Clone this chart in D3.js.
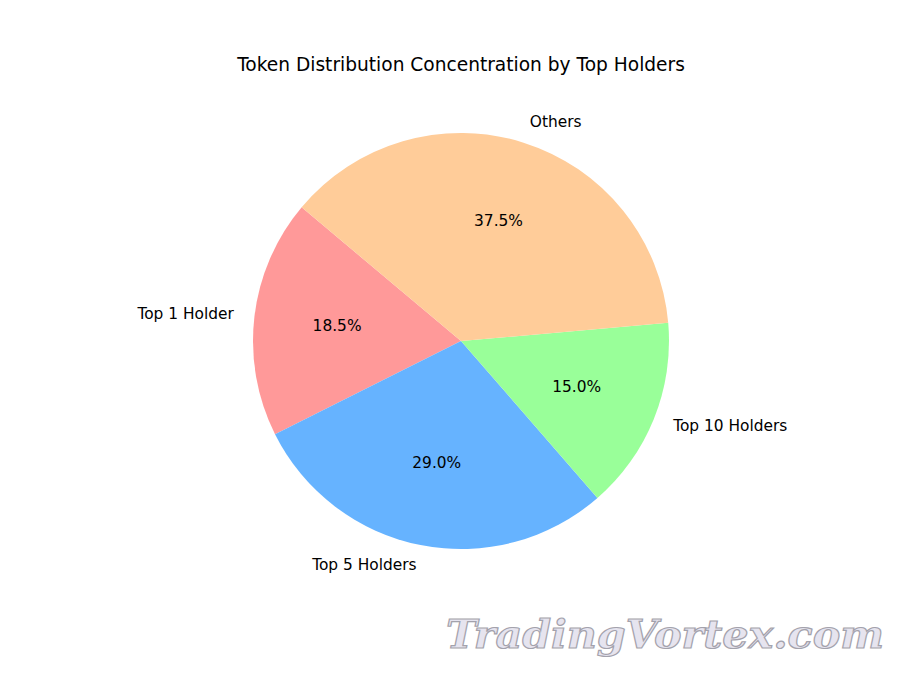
<!DOCTYPE html>
<html><head><meta charset="utf-8">
<script src="https://cdn.jsdelivr.net/npm/d3@7"></script>
<style>body{margin:0;background:#fff}svg{display:block}text{font-family:"DejaVu Sans",sans-serif}</style>
</head><body>
<script>
const categories = ["Top 1 Holder", "Top 5 Holders", "Top 10 Holders", "Others"];
const values = [18.5, 29.0, 15.0, 37.5];
const colors = ["#ff9999", "#66b3ff", "#99ff99", "#ffcc99"];
const title = "Token Distribution Concentration by Top Holders";
const startAngleDeg = 140;

const W = 900, H = 675, cx = 461, cy = 341, R = 208;
const svg = d3.select("body").append("svg").attr("width", W).attr("height", H);

svg.append("text").attr("x", 461).attr("y", 65).attr("text-anchor", "middle")
  .attr("dominant-baseline", "middle").style("font-size", "18.6px").text(title);

// matplotlib: counterclockwise from startangle measured from +x axis
// d3: clockwise from 12 o'clock. d3 angle = 90 - mplAngle
const total = d3.sum(values);
const toRad = Math.PI / 180;
let acc = startAngleDeg;
const slices = values.map((v, i) => {
  const sweep = v / total * 360;
  const a0 = acc, a1 = acc + sweep;
  acc = a1;
  return {i, v, a0, a1};
});
const arc = d3.arc().innerRadius(0).outerRadius(R);
const g = svg.append("g").attr("transform", `translate(${cx},${cy})`);
g.selectAll("path").data(slices).join("path")
  .attr("d", d => arc({startAngle: (90 - d.a1) * toRad, endAngle: (90 - d.a0) * toRad}))
  .attr("fill", d => colors[d.i]);

slices.forEach(d => {
  const mid = (d.a0 + d.a1) / 2 * toRad;
  const lx = 1.1 * R * Math.cos(mid), ly = -1.1 * R * Math.sin(mid);
  g.append("text").attr("x", lx).attr("y", ly)
    .attr("text-anchor", lx < 0 ? "end" : "start")
    .attr("dominant-baseline", "middle").style("font-size", "15.4px")
    .text(categories[d.i]);
  const px = 0.6 * R * Math.cos(mid), py = -0.6 * R * Math.sin(mid);
  g.append("text").attr("x", px).attr("y", py).attr("text-anchor", "middle")
    .attr("dominant-baseline", "middle").style("font-size", "15.4px")
    .text(d.v.toFixed(1) + "%");
});

// watermark
svg.append("text").attr("x", 446).attr("y", 648)
  .attr("textLength", 438).attr("lengthAdjust", "spacingAndGlyphs")
  .style("font-family", "'DejaVu Serif', serif").style("font-style", "italic")
  .style("font-weight", "bold").style("font-size", "40px")
  .attr("fill", "#e4e2ee").attr("stroke", "#9a98a4").attr("stroke-width", 1.2)
  .attr("opacity", 0.9)
  .text("TradingVortex.com");
</script>
</body></html>
